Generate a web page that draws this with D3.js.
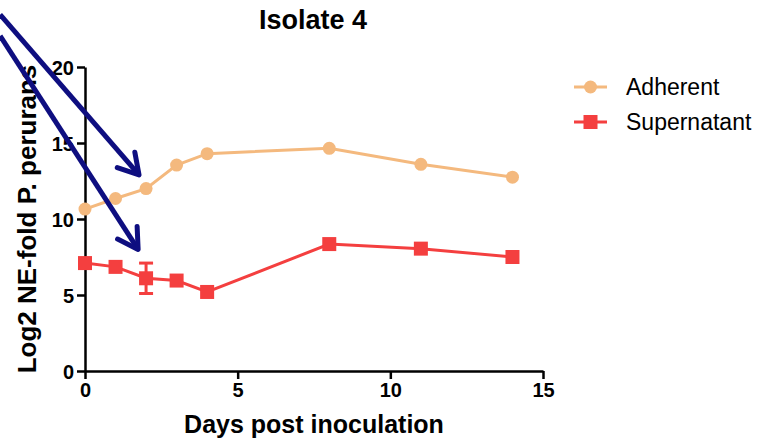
<!doctype html>
<html lang="en">
<head>
<meta charset="utf-8">
<title>Isolate 4</title>
<script src="https://cdn.jsdelivr.net/npm/d3@7"></script>
<style>
    body { margin: 0; background: #fff; }
    svg { font-family: "Liberation Sans", Arial, sans-serif; }
    .axis path, .axis line { stroke: #000; stroke-width: 2.5px; }
    .axis text { font-size: 20px; font-weight: bold; fill: #000; }
</style>
</head>
<body>
<svg width="765" height="442"></svg>
<script>
    // data
    var days = [0, 1, 2, 3, 4, 8, 11, 14];
    var adherent = [10.65, 11.35, 12.0, 13.55, 14.3, 14.65, 13.6, 12.75];
    var supernatant = [7.1, 6.85, 6.1, 5.95, 5.2, 8.35, 8.05, 7.5];
    var supernatantErr = [0, 0, 1.0, 0, 0, 0, 0, 0];
    var seriesNames = ["Adherent", "Supernatant"];
    var seriesColors = ["#f4b97e", "#f43f3f"];
    var xTicks = [0, 5, 10, 15];
    var yTicks = [0, 5, 10, 15, 20];
    // annotation arrows: [fromDay, fromValue, toDay, toValue]
    var arrows = [[-2.78, 23.45, 1.77, 12.9], [-2.78, 22.05, 1.74, 8.0]];

    var svg = d3.select("svg");
    var margin = {left: 85, top: 67, right: 222, bottom: 71};
    var width = 765 - margin.left - margin.right;
    var height = 442 - margin.top - margin.bottom;

    var x = d3.scaleLinear().domain([0, 15]).range([margin.left, margin.left + width]);
    var y = d3.scaleLinear().domain([0, 20]).range([margin.top + height, margin.top]);

    // axes
    svg.append("g")
        .attr("class", "axis")
        .attr("transform", "translate(0," + y(0) + ")")
        .call(d3.axisBottom(x).tickValues(xTicks).tickSize(8).tickSizeOuter(0).tickPadding(4));
    var yAxis = svg.append("g")
        .attr("class", "axis")
        .attr("transform", "translate(" + x(0) + ",0)")
        .call(d3.axisLeft(y).tickValues(yTicks).tickSize(8).tickSizeOuter(0).tickPadding(3));
    yAxis.selectAll("text").attr("dy", "0.36em");

    // title and axis labels
    svg.append("text")
        .attr("x", 313).attr("y", 29)
        .attr("text-anchor", "middle")
        .style("font-size", "27px").style("font-weight", "bold")
        .text("Isolate 4");
    svg.append("text")
        .attr("x", (x(0) + x(15)) / 2).attr("y", 433)
        .attr("text-anchor", "middle")
        .style("font-size", "25px").style("font-weight", "bold")
        .text("Days post inoculation");
    svg.append("text")
        .attr("transform", "translate(36,219) rotate(-90)")
        .attr("text-anchor", "middle")
        .style("font-size", "26px").style("font-weight", "bold")
        .text("Log2 NE-fold P. perurans");

    var line = d3.line()
        .x(function(d) { return x(d[0]); })
        .y(function(d) { return y(d[1]); });

    var adhData = days.map(function(d, i) { return [d, adherent[i]]; });
    var supData = days.map(function(d, i) { return [d, supernatant[i], supernatantErr[i]]; });

    // adherent
    svg.append("path")
        .datum(adhData)
        .attr("d", line)
        .attr("fill", "none")
        .attr("stroke", seriesColors[0])
        .attr("stroke-width", 3);
    svg.selectAll(".adh")
        .data(adhData)
        .enter().append("circle")
        .attr("class", "adh")
        .attr("cx", function(d) { return x(d[0]); })
        .attr("cy", function(d) { return y(d[1]); })
        .attr("r", 6.5)
        .attr("fill", seriesColors[0]);

    // supernatant
    svg.append("path")
        .datum(supData)
        .attr("d", line)
        .attr("fill", "none")
        .attr("stroke", seriesColors[1])
        .attr("stroke-width", 3);
    var err = svg.selectAll(".err")
        .data(supData.filter(function(d) { return d[2] > 0; }))
        .enter().append("g")
        .attr("class", "err")
        .attr("stroke", seriesColors[1])
        .attr("stroke-width", 3);
    err.append("line")
        .attr("x1", function(d) { return x(d[0]); })
        .attr("x2", function(d) { return x(d[0]); })
        .attr("y1", function(d) { return y(d[1] + d[2]); })
        .attr("y2", function(d) { return y(d[1] - d[2]); });
    [1, -1].forEach(function(s) {
        err.append("line")
            .attr("x1", function(d) { return x(d[0]) - 7; })
            .attr("x2", function(d) { return x(d[0]) + 7; })
            .attr("y1", function(d) { return y(d[1] + s * d[2]); })
            .attr("y2", function(d) { return y(d[1] + s * d[2]); });
    });
    svg.selectAll(".sup")
        .data(supData)
        .enter().append("rect")
        .attr("class", "sup")
        .attr("x", function(d) { return x(d[0]) - 7; })
        .attr("y", function(d) { return y(d[1]) - 7; })
        .attr("width", 14)
        .attr("height", 14)
        .attr("fill", seriesColors[1]);

    // legend
    var legend = svg.selectAll(".legend")
        .data(seriesNames)
        .enter().append("g")
        .attr("class", "legend")
        .attr("transform", function(d, i) { return "translate(574," + (87 + i * 35) + ")"; });
    legend.append("line")
        .attr("x1", 0).attr("x2", 33)
        .attr("stroke", function(d, i) { return seriesColors[i]; })
        .attr("stroke-width", 3);
    legend.append("circle")
        .filter(function(d, i) { return i == 0; })
        .attr("cx", 16.5).attr("r", 6.5)
        .attr("fill", seriesColors[0]);
    legend.append("rect")
        .filter(function(d, i) { return i == 1; })
        .attr("x", 9.5).attr("y", -7).attr("width", 14).attr("height", 14)
        .attr("fill", seriesColors[1]);
    legend.append("text")
        .attr("x", 52).attr("y", 0).attr("dy", "0.36em")
        .style("font-size", "23px")
        .text(function(d) { return d; });

    // navy arrows
    var arrowG = svg.append("g")
        .attr("stroke", "#0e0e80")
        .attr("stroke-width", 5)
        .attr("fill", "none");
    arrows.forEach(function(a) {
        var x1 = x(a[0]), y1 = y(a[1]), x2 = x(a[2]), y2 = y(a[3]);
        var ang = Math.atan2(y2 - y1, x2 - x1);
        var len = 23, spread = 0.53;
        arrowG.append("path")
            .attr("d", "M" + x1 + "," + y1 + "L" + x2 + "," + y2);
        arrowG.append("path")
            .attr("stroke-linejoin", "round")
            .attr("stroke-linecap", "round")
            .attr("d", "M" + (x2 - len * Math.cos(ang - spread)) + "," + (y2 - len * Math.sin(ang - spread)) +
                "L" + x2 + "," + y2 +
                "L" + (x2 - len * Math.cos(ang + spread)) + "," + (y2 - len * Math.sin(ang + spread)));
    });
</script>
</body>
</html>
